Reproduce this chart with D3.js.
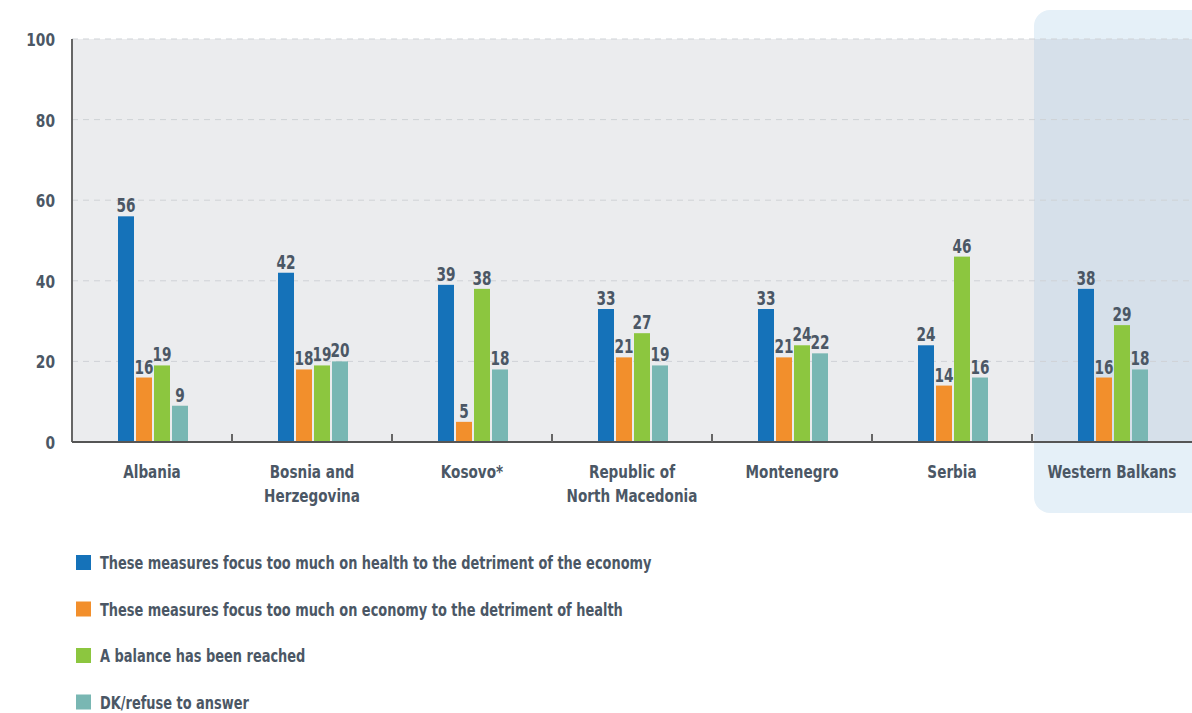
<!DOCTYPE html>
<html><head><meta charset="utf-8">
<script src="https://cdn.jsdelivr.net/npm/d3@7"></script>
<style>body{margin:0;background:#fff}svg{display:block}text{font-family:"DejaVu Sans Condensed","DejaVu Sans",sans-serif;font-stretch:condensed;font-weight:bold;fill:#4b5765}</style>
</head><body><svg id="c" width="1192" height="713"></svg>
<script>
const categories = [["Albania"],["Bosnia and","Herzegovina"],["Kosovo*"],["Republic of","North Macedonia"],["Montenegro"],["Serbia"],["Western Balkans"]];
const seriesNames = ["These measures focus too much on health to the detriment of the economy","These measures focus too much on economy to the detriment of health","A balance has been reached","DK/refuse to answer"];
const healthTooMuch = [56,42,39,33,33,24,38];
const economyTooMuch = [16,18,5,21,21,14,16];
const balance = [19,19,38,27,24,46,29];
const dk = [9,20,18,19,22,16,18];
const yTicks = [0,20,40,60,80,100];
const colors = ["#1572b9","#f28f2c","#8cc63f","#79b7b3"];

const series = [healthTooMuch, economyTooMuch, balance, dk];
const svg = d3.select("#c");
const L = 72, R = 1192, T = 39, B = 442;
const x = d3.scaleBand().domain(d3.range(categories.length)).range([L, R]).padding(0);
const y = d3.scaleLinear().domain([0,100]).range([B, T]);
const bw = 16, gap = 2;
const xs = d3.scaleBand().domain(d3.range(4)).range([0, 4*bw+3*gap]).paddingInner(gap/(bw+gap));

function label(parent, px, py, str, size, anchor, sx){
  return parent.append("text").attr("transform", `translate(${px},${py}) scale(${sx},1)`)
    .attr("text-anchor", anchor).attr("font-size", size).text(str);
}

// highlight
const hx = x(6)+2;
svg.append("rect").attr("x", hx).attr("y", 10).attr("width", R - hx + 20).attr("height", 503).attr("rx", 16).attr("fill", "#e5f0f8");
svg.append("rect").attr("x", L).attr("y", T).attr("width", hx - L).attr("height", B - T).attr("fill", "#ebecee");
svg.append("rect").attr("x", hx).attr("y", T).attr("width", R - hx).attr("height", B - T).attr("fill", "#d6e0ea");

// grid
svg.append("g").selectAll("line").data(yTicks.filter(d=>d>0)).join("line")
  .attr("x1", L).attr("x2", R).attr("y1", d=>y(d)).attr("y2", d=>y(d))
  .attr("stroke", "#cfd2d6").attr("stroke-dasharray", "6,5").attr("stroke-width", 1);

// y axis labels
const ya = svg.append("g");
yTicks.forEach(t => label(ya, 55, y(t)+7, t, 18, "end", 0.85));

// bars
const gr = svg.append("g").selectAll("g").data(categories).join("g")
  .attr("transform", (d,i)=>`translate(${x(i)+x.bandwidth()/2 - xs.range()[1]/2 + 1},0)`);
gr.each(function(d,i){
  const g = d3.select(this);
  series.forEach((s,k)=>{
    g.append("rect").attr("x", xs(k)).attr("y", y(s[i])).attr("width", xs.bandwidth()).attr("height", B - y(s[i])).attr("fill", colors[k]);
  });
  series.forEach((s,k)=>{
    label(g, xs(k)+xs.bandwidth()/2, y(s[i])-4, s[i], 20, "middle", 0.76);
  });
});

// axes lines
svg.append("line").attr("x1", L).attr("x2", L).attr("y1", T).attr("y2", B).attr("stroke", "#666").attr("stroke-width", 2);
svg.append("line").attr("x1", L).attr("x2", R).attr("y1", B).attr("y2", B).attr("stroke", "#555").attr("stroke-width", 2);
svg.append("g").selectAll("line").data(d3.range(1, categories.length)).join("line")
  .attr("x1", d=>x(d)).attr("x2", d=>x(d)).attr("y1", B-8).attr("y2", B).attr("stroke", "#666").attr("stroke-width", 2);

// category labels
const ca = svg.append("g");
categories.forEach((c,i)=>c.forEach((line,j)=>label(ca, x(i)+x.bandwidth()/2, 478 + j*24, line, 18, "middle", 0.84)));

// legend
const lg = svg.append("g").selectAll("g").data(seriesNames).join("g").attr("transform",(d,i)=>`translate(76,${555+i*46.5})`);
lg.append("rect").attr("width", 15).attr("height", 15).attr("fill",(d,i)=>colors[i]);
lg.each(function(d){ label(d3.select(this), 24, 14, d, 18, "start", 0.8); });
</script></body></html>
